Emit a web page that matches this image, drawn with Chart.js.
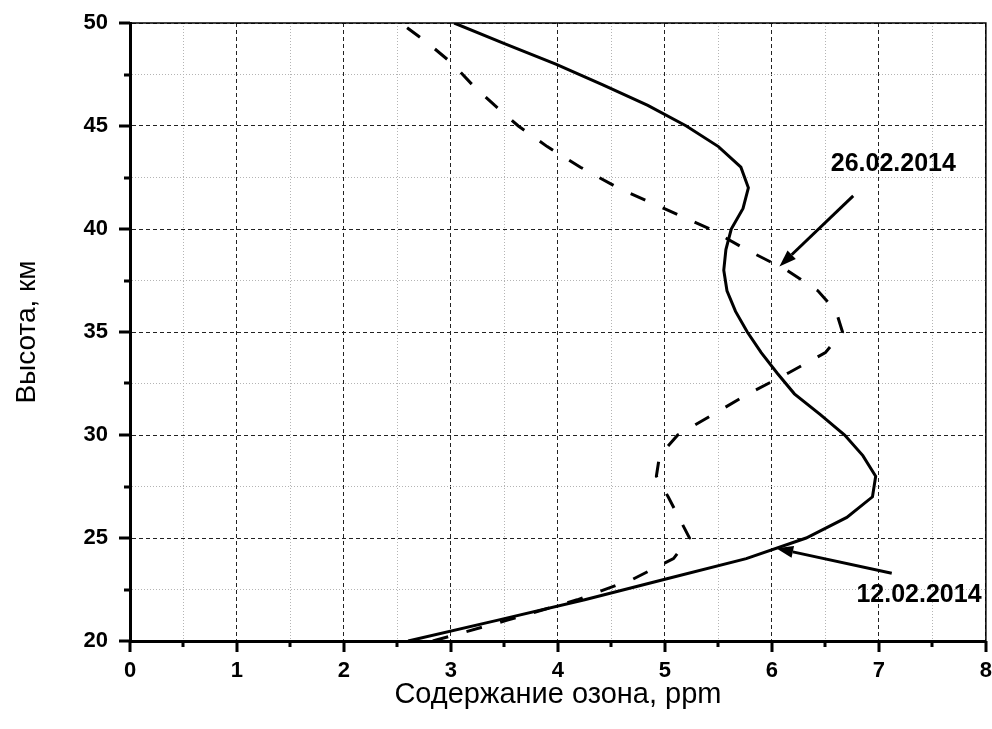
<!DOCTYPE html>
<html>
<head>
    <meta charset="utf-8">
    <title>Ozone profile</title>
    <script src="https://cdn.jsdelivr.net/npm/chart.js"></script>
    <style>
        body { margin: 0; background: #fff; }
        .chart-container { width: 992px; height: 729px; }
    </style>
</head>
<body>
    <div class="chart-container">
        <canvas id="myChart" width="992" height="729"></canvas>
    </div>

    <script>
        // heights, km
        var heights = [20, 21, 22, 23, 24, 25, 26, 27, 28, 29, 30, 31, 32, 33, 34, 35,
                       36, 37, 38, 39, 40, 41, 42, 43, 44, 45, 46, 47, 48, 49, 50];
        // ozone, ppm - 12.02.2014 (solid)
        var ozone1202 = [2.60, 3.43, 4.25, 5.00, 5.76, 6.32, 6.70, 6.94, 6.97, 6.85, 6.68,
                         6.45, 6.21, 6.05, 5.90, 5.77, 5.66, 5.58, 5.55, 5.57, 5.62,
                         5.73, 5.78, 5.71, 5.50, 5.20, 4.84, 4.42, 3.98, 3.50, 3.03];
        // ozone, ppm - 26.02.2014 (dashed)
        var ozone2602 = [2.83, 3.52, 4.18, 4.70, 5.08, 5.23, 5.13, 5.03, 4.92, 4.95, 5.12,
                         5.45, 5.78, 6.15, 6.50, 6.66, 6.60, 6.43, 6.14, 5.76, 5.42,
                         4.99, 4.56, 4.21, 3.90, 3.63, 3.41, 3.20, 3.02, 2.79, 2.53];

        var xLabels = [0, 1, 2, 3, 4, 5, 6, 7, 8];
        var yLabels = [20, 25, 30, 35, 40, 45, 50];

        // arrows + labels, in data units (ppm, km)
        var notes = [
            { text: '26.02.2014', tx: 6.55, ty: 43.17, from: [6.76, 41.61], to: [6.07, 38.18] },
            { text: '12.02.2014', tx: 6.79, ty: 22.23, from: [7.12, 23.29], to: [6.04, 24.50] }
        ];

        var fontFamily = 'Arial, "Liberation Sans", sans-serif';

        function toPoints(xs, ys) {
            return xs.map(function(v, i) { return { x: v, y: ys[i] }; });
        }

        function isMajor(value, step) {
            return Math.abs(value / step - Math.round(value / step)) < 1e-6;
        }

        var decorPlugin = {
            id: 'decor',
            afterDraw: function(chart) {
                var ctx = chart.ctx;
                var area = chart.chartArea;
                var xs = chart.scales.x, ys = chart.scales.y;
                ctx.save();

                // thin top / right frame
                ctx.strokeStyle = '#000';
                ctx.lineWidth = 1.5;
                ctx.beginPath();
                ctx.moveTo(area.left, area.top);
                ctx.lineTo(area.right, area.top);
                ctx.lineTo(area.right, area.bottom);
                ctx.stroke();

                // outward tick marks
                ctx.lineWidth = 3;
                ctx.beginPath();
                xs.ticks.forEach(function(t) {
                    var px = Math.round(xs.getPixelForValue(t.value));
                    var len = isMajor(t.value, 1) ? 11 : 6;
                    ctx.moveTo(px, area.bottom);
                    ctx.lineTo(px, area.bottom + len);
                });
                ys.ticks.forEach(function(t) {
                    var py = Math.round(ys.getPixelForValue(t.value));
                    var len = isMajor(t.value, 5) ? 11 : 6;
                    ctx.moveTo(area.left, py);
                    ctx.lineTo(area.left - len, py);
                });
                ctx.stroke();

                // arrows and labels
                notes.forEach(function(n) {
                    var x1 = xs.getPixelForValue(n.from[0]), y1 = ys.getPixelForValue(n.from[1]);
                    var x2 = xs.getPixelForValue(n.to[0]), y2 = ys.getPixelForValue(n.to[1]);
                    var ang = Math.atan2(y2 - y1, x2 - x1);
                    var headLen = 17, headW = 6;
                    var bx = x2 - headLen * Math.cos(ang), by = y2 - headLen * Math.sin(ang);
                    ctx.lineWidth = 3;
                    ctx.beginPath();
                    ctx.moveTo(x1, y1);
                    ctx.lineTo(bx, by);
                    ctx.stroke();
                    ctx.fillStyle = '#000';
                    ctx.beginPath();
                    ctx.moveTo(x2, y2);
                    ctx.lineTo(bx + headW * Math.sin(ang), by - headW * Math.cos(ang));
                    ctx.lineTo(bx - headW * Math.sin(ang), by + headW * Math.cos(ang));
                    ctx.closePath();
                    ctx.fill();

                    ctx.font = 'bold 25px ' + fontFamily;
                    ctx.textAlign = 'left';
                    ctx.textBaseline = 'middle';
                    ctx.fillText(n.text, xs.getPixelForValue(n.tx), ys.getPixelForValue(n.ty));
                });
                ctx.restore();
            }
        };

        var ctx = document.getElementById('myChart').getContext('2d');
        var ozoneChart = new Chart(ctx, {
            type: 'scatter',
            data: {
                datasets: [
                    {
                        label: '12.02.2014',
                        data: toPoints(ozone1202, heights),
                        showLine: true,
                        borderColor: '#000',
                        borderWidth: 3,
                        pointRadius: 0,
                        tension: 0,
                        fill: false
                    },
                    {
                        label: '26.02.2014',
                        data: toPoints(ozone2602, heights),
                        showLine: true,
                        borderColor: '#000',
                        borderWidth: 3,
                        borderDash: [16, 19],
                        pointRadius: 0,
                        tension: 0,
                        fill: false
                    }
                ]
            },
            options: {
                responsive: false,
                animation: false,
                layout: { autoPadding: false, padding: { left: 0, right: 6, top: 23, bottom: 0 } },
                plugins: {
                    legend: { display: false },
                    tooltip: { enabled: false }
                },
                scales: {
                    x: {
                        type: 'linear',
                        min: 0,
                        max: 8,
                        afterFit: function(s) { s.height = 88; },
                        afterBuildTicks: function(s) {
                            s.ticks = [];
                            for (var v = 0; v <= 8; v += 0.5) s.ticks.push({ value: v });
                        },
                        ticks: {
                            autoSkip: false,
                            maxRotation: 0,
                            padding: 0,
                            color: '#000',
                            font: { family: fontFamily, size: 22, weight: 'bold' },
                            callback: function(v) { return xLabels.indexOf(v) >= 0 ? String(v) : ''; }
                        },
                        grid: {
                            drawTicks: true,
                            tickLength: 17,
                            tickColor: 'rgba(0,0,0,0)',
                            lineWidth: 1,
                            color: function(c) { return c.tick && isMajor(c.tick.value, 1) ? '#222' : '#b4b4b4'; }
                        },
                        border: {
                            display: true,
                            width: 3,
                            color: '#000',
                            dash: function(c) { return c.tick && isMajor(c.tick.value, 1) ? [4, 3] : [1, 2]; }
                        },
                        title: {
                            display: true,
                            text: 'Содержание озона, ppm',
                            color: '#000',
                            font: { family: fontFamily, size: 29 },
                            padding: { top: 0, bottom: 17 }
                        }
                    },
                    y: {
                        type: 'linear',
                        min: 20,
                        max: 50,
                        afterFit: function(s) { s.width = 130; },
                        afterBuildTicks: function(s) {
                            s.ticks = [];
                            for (var v = 20; v <= 50; v += 2.5) s.ticks.push({ value: v });
                        },
                        ticks: {
                            autoSkip: false,
                            padding: 0,
                            color: '#000',
                            font: { family: fontFamily, size: 22, weight: 'bold' },
                            callback: function(v) { return yLabels.indexOf(v) >= 0 ? String(v) : ''; }
                        },
                        grid: {
                            drawTicks: true,
                            tickLength: 22,
                            tickColor: 'rgba(0,0,0,0)',
                            lineWidth: 1,
                            color: function(c) { return c.tick && isMajor(c.tick.value, 5) ? '#222' : '#b4b4b4'; }
                        },
                        border: {
                            display: true,
                            width: 3,
                            color: '#000',
                            dash: function(c) { return c.tick && isMajor(c.tick.value, 5) ? [4, 3] : [1, 2]; }
                        },
                        title: {
                            display: true,
                            text: 'Высота, км',
                            color: '#000',
                            font: { family: fontFamily, size: 28 },
                            padding: { top: 10, bottom: 0 }
                        }
                    }
                }
            },
            plugins: [decorPlugin]
        });
    </script>
</body>
</html>
